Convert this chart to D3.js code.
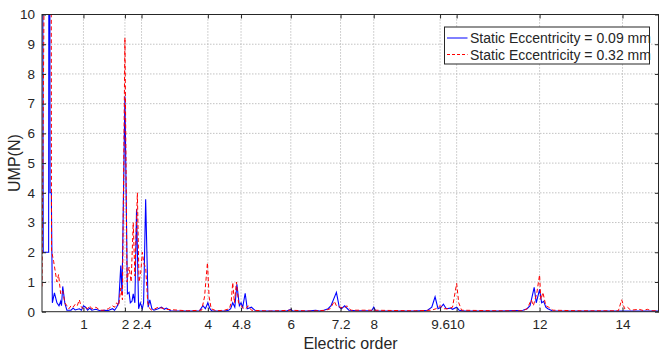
<!DOCTYPE html>
<html>
<head>
<meta charset="utf-8">
<script src="https://cdn.jsdelivr.net/npm/d3@7"></script>
<style>
body { margin: 0; background: #fff; }
text { font-family: "Liberation Sans", Arial, sans-serif; fill: #262626; }
</style>
</head>
<body>
<div id="chart"></div>
<script>
var width = 660, height = 352;
var margin = {left: 42, right: 1, top: 14.5, bottom: 40.3};

var xTicks = [1, 2, 2.4, 4, 4.8, 6, 7.2, 8, 9.6, 10, 12, 14];
var yTicks = [0, 1, 2, 3, 4, 5, 6, 7, 8, 9, 10];
var seriesNames = ["Static Eccentricity = 0.09 mm", "Static Eccentricity = 0.32 mm"];

// static eccentricity 0.09 mm
var blueX = [0, 0.03, 0.16, 0.175, 0.195, 0.225, 0.25, 0.3, 0.36, 0.41, 0.45, 0.47, 0.5, 0.55, 0.6, 0.7, 0.75, 0.8, 0.9, 0.95,
  1.0, 1.05, 1.1, 1.15, 1.2, 1.3, 1.4, 1.5, 1.6, 1.7, 1.75, 1.8, 1.85, 1.9, 1.93, 2.0, 2.06, 2.1, 2.13, 2.17,
  2.2, 2.24, 2.28, 2.33, 2.37, 2.42, 2.45, 2.5, 2.56, 2.6, 2.65, 2.7, 2.8, 2.88, 2.95, 3.0, 3.1, 3.5, 3.8, 3.88,
  3.94, 4.0, 4.05, 4.1, 4.4, 4.5, 4.55, 4.6, 4.65, 4.7, 4.76, 4.8, 4.84, 4.9, 4.95, 5.05, 5.15, 5.5, 5.9, 6.0,
  6.05, 6.4, 6.6, 6.7, 6.8, 6.9, 6.97, 7.1, 7.17, 7.22, 7.3, 7.4, 7.6, 7.95, 8.0, 8.05, 9.0, 9.3, 9.4, 9.48,
  9.55, 9.62, 9.68, 9.75, 9.85, 9.9, 10.0, 10.06, 10.2, 11.0, 11.6, 11.7, 11.77, 11.87, 11.92, 12.0, 12.05, 12.1, 12.15, 12.2,
  12.3, 13.0, 14.9];
var blueY = [30, 2.0, 2.0, 30, 4.0, 4.0, 0.3, 0.63, 0.3, 0.2, 0.35, 0.2, 0.85, 0.3, 0.05, 0.05, 0.12, 0.06, 0.1, 0.05,
  0.2, 0.15, 0.05, 0.12, 0.05, 0.08, 0.03, 0.05, 0.04, 0.1, 0.05, 0.15, 0.3, 1.55, 0.6, 7.25, 0.6, 0.65, 0.3, 0.35,
  0.6, 0.3, 3.45, 0.1, 0.3, 0.1, 0.3, 3.78, 0.15, 0.4, 0.1, 0.05, 0.1, 0.15, 0.08, 0.12, 0.03, 0.02, 0.03, 0.2,
  0.1, 0.3, 0.1, 0.02, 0.02, 0.05, 0.1, 0.3, 0.15, 0.92, 0.2, 0.3, 0.15, 0.62, 0.1, 0.15, 0.03, 0.02, 0.02, 0.08,
  0.02, 0.02, 0.05, 0.02, 0.05, 0.1, 0.2, 0.65, 0.15, 0.1, 0.2, 0.05, 0.03, 0.03, 0.15, 0.02, 0.02, 0.05, 0.15, 0.5,
  0.1, 0.15, 0.25, 0.1, 0.12, 0.08, 0.15, 0.05, 0.02, 0.02, 0.05, 0.1, 0.2, 0.82, 0.3, 0.75, 0.3, 0.35, 0.15, 0.1,
  0.03, 0.02, 0.02];

// static eccentricity 0.32 mm
var redX = [0, 0.2, 0.23, 0.28, 0.36, 0.4, 0.45, 0.5, 0.55, 0.6, 0.65, 0.7, 0.75, 0.8, 0.85, 0.9, 0.95, 1.0, 1.05, 1.1,
  1.15, 1.2, 1.3, 1.4, 1.5, 1.6, 1.7, 1.75, 1.8, 1.85, 1.9, 1.94, 2.0, 2.05, 2.1, 2.15, 2.2, 2.24, 2.3, 2.34,
  2.38, 2.42, 2.46, 2.5, 2.55, 2.6, 2.65, 2.7, 2.8, 2.9, 3.0, 3.5, 3.85, 3.92, 3.99, 4.03, 4.08, 4.2, 4.4, 4.52,
  4.56, 4.6, 4.64, 4.69, 4.74, 4.8, 4.86, 4.92, 4.97, 5.05, 5.5, 6.0, 6.5, 6.85, 6.95, 7.05, 7.1, 7.2, 7.3, 7.35,
  7.45, 8.0, 9.0, 9.4, 9.5, 9.6, 9.7, 9.8, 9.9, 10.0, 10.05, 10.12, 11.0, 11.6, 11.7, 11.8, 11.85, 11.93, 12.0, 12.03,
  12.08, 12.15, 12.22, 12.32, 13.0, 13.9, 13.98, 14.05, 14.12, 14.2, 14.4, 14.5, 14.6, 14.7, 14.9];
var redY = [0.85, 40, 2.05, 1.7, 1.0, 1.25, 0.6, 0.7, 0.3, 0.2, 0.1, 0.2, 0.15, 0.25, 0.2, 0.4, 0.15, 0.1, 0.15, 0.1,
  0.2, 0.1, 0.15, 0.05, 0.05, 0.1, 0.2, 0.15, 0.3, 0.2, 0.8, 0.4, 9.22, 1.0, 1.5, 1.0, 3.0, 1.2, 4.0, 1.0,
  1.3, 2.0, 1.6, 1.5, 0.3, 0.1, 0.05, 0.08, 0.15, 0.12, 0.08, 0.03, 0.05, 0.5, 1.65, 0.5, 0.1, 0.03, 0.05, 0.1,
  0.3, 0.98, 0.3, 1.0, 0.3, 0.2, 0.12, 0.1, 0.2, 0.05, 0.02, 0.05, 0.02, 0.05, 0.1, 0.35, 0.2, 0.15, 0.12, 0.2,
  0.05, 0.05, 0.03, 0.05, 0.1, 0.2, 0.1, 0.1, 0.15, 0.95, 0.3, 0.05, 0.03, 0.03, 0.1, 0.4, 0.2, 0.6, 1.24, 0.4,
  0.65, 0.2, 0.15, 0.05, 0.03, 0.03, 0.4, 0.1, 0.15, 0.05, 0.08, 0.04, 0.08, 0.03, 0.03];

var svg = d3.select("#chart").append("svg")
  .attr("width", width)
  .attr("height", height);

var x = d3.scaleLinear().domain([0, 14.88]).range([margin.left, width - margin.right]);
var y = d3.scaleLinear().domain([0, 10]).range([height - margin.bottom, margin.top]);

var x0 = x.range()[0], x1 = x.range()[1];
var y0 = y.range()[0], y1 = y.range()[1];

svg.append("rect")
  .attr("x", x0).attr("y", y1)
  .attr("width", x1 - x0).attr("height", y0 - y1)
  .attr("fill", "#fff");

// grid
svg.append("g").selectAll("line")
  .data(xTicks)
  .enter().append("line")
  .attr("x1", function(d) { return x(d); })
  .attr("x2", function(d) { return x(d); })
  .attr("y1", y0).attr("y2", y1)
  .attr("stroke", "#b4b4b4")
  .attr("stroke-width", 0.8)
  .attr("stroke-dasharray", "1.5,1.5");

svg.append("g").selectAll("line")
  .data(yTicks.slice(1, -1))
  .enter().append("line")
  .attr("x1", x0).attr("x2", x1)
  .attr("y1", function(d) { return y(d); })
  .attr("y2", function(d) { return y(d); })
  .attr("stroke", "#b4b4b4")
  .attr("stroke-width", 0.8)
  .attr("stroke-dasharray", "1.5,1.5");

svg.append("clipPath").attr("id", "plotclip")
  .append("rect")
  .attr("x", x0).attr("y", y1)
  .attr("width", x1 - x0).attr("height", y0 - y1);

var line = d3.line()
  .x(function(d) { return x(d[0]); })
  .y(function(d) { return y(d[1]); });

var blue = d3.zip(blueX, blueY);
var red = d3.zip(redX, redY);

var plot = svg.append("g").attr("clip-path", "url(#plotclip)");

plot.append("path")
  .datum(blue)
  .attr("d", line)
  .attr("fill", "none")
  .attr("stroke", "#0000ff")
  .attr("stroke-width", 1.1);

plot.append("path")
  .datum(red)
  .attr("d", line)
  .attr("fill", "none")
  .attr("stroke", "#ff0000")
  .attr("stroke-width", 1)
  .attr("stroke-dasharray", "4,2.5");

// axes, matlab style ticks inward on all sides
var axisColor = "#262626";
var tickLen = 4;

svg.append("g")
  .attr("transform", "translate(0," + y0 + ")")
  .call(d3.axisBottom(x).tickValues(xTicks).tickSizeInner(-tickLen).tickSizeOuter(0).tickPadding(8)
    .tickFormat(function(d) { return d; }))
  .call(function(g) {
    g.select(".domain").remove();
    g.selectAll("line").attr("stroke", axisColor);
    g.selectAll("text").attr("font-size", "13.5px").attr("fill", axisColor)
      .style("font-family", "'Liberation Sans', Arial, sans-serif");
  });

svg.append("g")
  .attr("transform", "translate(0," + y1 + ")")
  .call(d3.axisTop(x).tickValues(xTicks).tickSizeInner(-tickLen).tickSizeOuter(0).tickFormat(""))
  .call(function(g) {
    g.select(".domain").remove();
    g.selectAll("line").attr("stroke", axisColor);
  });

svg.append("g")
  .attr("transform", "translate(" + x0 + ",0)")
  .call(d3.axisLeft(y).tickValues(yTicks).tickSizeInner(-tickLen).tickSizeOuter(0).tickPadding(7))
  .call(function(g) {
    g.select(".domain").remove();
    g.selectAll("line").attr("stroke", axisColor);
    g.selectAll("text").attr("font-size", "13.5px").attr("fill", axisColor)
      .style("font-family", "'Liberation Sans', Arial, sans-serif");
  });

svg.append("g")
  .attr("transform", "translate(" + x1 + ",0)")
  .call(d3.axisRight(y).tickValues(yTicks).tickSizeInner(-tickLen).tickSizeOuter(0).tickFormat(""))
  .call(function(g) {
    g.select(".domain").remove();
    g.selectAll("line").attr("stroke", axisColor);
  });

svg.append("rect")
  .attr("x", x0).attr("y", y1)
  .attr("width", x1 - x0 - 0.5).attr("height", y0 - y1)
  .attr("fill", "none")
  .attr("stroke", axisColor)
  .attr("stroke-width", 1);

// labels
svg.append("text")
  .attr("x", (x0 + x1) / 2)
  .attr("y", 349)
  .attr("text-anchor", "middle")
  .attr("font-size", "16px")
  .text("Electric order");

svg.append("text")
  .attr("transform", "translate(20," + ((y0 + y1) / 2) + ") rotate(-90)")
  .attr("text-anchor", "middle")
  .attr("font-size", "16px")
  .text("UMP(N)");

// legend
var lg = svg.append("g").attr("transform", "translate(444.5,27)");
lg.append("rect")
  .attr("width", 205).attr("height", 37)
  .attr("fill", "#fff")
  .attr("stroke", axisColor)
  .attr("stroke-width", 1);

var legendStyles = [
  {color: "#0000ff", dash: null},
  {color: "#ff0000", dash: "3,2"}
];

lg.selectAll("g.item")
  .data(seriesNames)
  .enter().append("g")
  .attr("class", "item")
  .attr("transform", function(d, i) { return "translate(0," + (11 + i * 16.5) + ")"; })
  .each(function(d, i) {
    var g = d3.select(this);
    g.append("line")
      .attr("x1", 2.5).attr("x2", 23)
      .attr("y1", 0).attr("y2", 0)
      .attr("stroke", legendStyles[i].color)
      .attr("stroke-width", 1)
      .attr("stroke-dasharray", legendStyles[i].dash);
    g.append("text")
      .attr("x", 25.5)
      .attr("y", 5)
      .attr("font-size", "14px")
      .text(d);
  });
</script>
</body>
</html>
